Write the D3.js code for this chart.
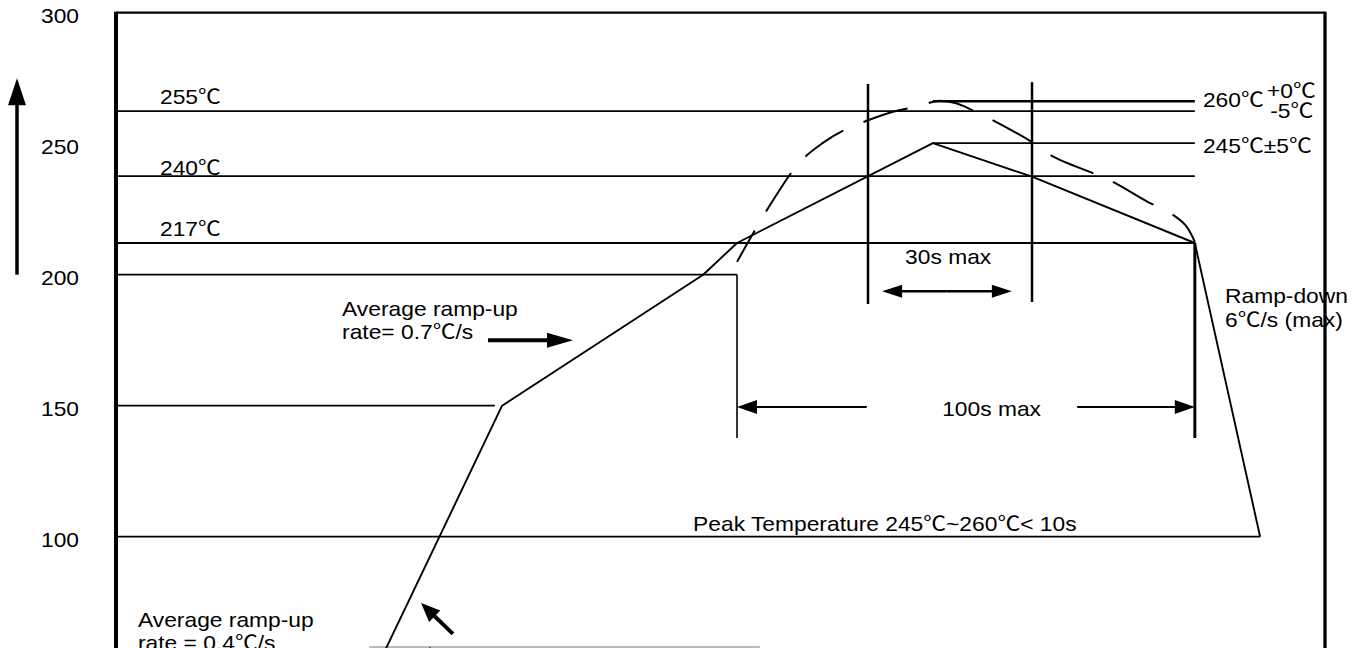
<!DOCTYPE html>
<html><head><meta charset="utf-8">
<script src="https://cdn.jsdelivr.net/npm/d3@7"></script>
<style>
html,body{margin:0;padding:0;background:#fff;}
svg{display:block;}
text{font-family:"Liberation Sans","Noto Sans CJK SC",Arial,sans-serif;font-size:20px;fill:#000;}
</style></head><body>
<svg id="c" width="1363" height="648"></svg>
<script>
// ---- data (time in s, temperature in degC) ----
const yTickValues = [300, 250, 200, 150, 100];
const yTickLabels = ["300", "250", "200", "150", "100"];

const solidTime = [61.6, 95.8, 145.7, 154.1, 202.7, 227.3, 267.7, 283.9];
const solidTemp = [40, 150, 200, 212.1, 250.2, 237.4, 212.1, 100];

const dashedTime = [154.1, 162.3, 169.7, 175.4, 180.2, 192.6, 199.5, 203.7, 208.2, 212.4, 219.4, 227.3, 232.3, 243.4, 248.4, 256.1, 260.3, 265.3, 267.7];
const dashedTemp = [204.9, 226.6, 243.0, 250.3, 254.8, 262.1, 264.4, 266.3, 265.5, 262.9, 257.5, 250.6, 245.3, 238.1, 234.6, 227.7, 224.7, 219.0, 212.5];

const levelTemp  = [262.4, 237.6, 212.1, 200, 150, 100, 266.2, 250.2, 57.9];
const levelStart = [0, 0, 0, 0, 0, 0, 202.7, 202.7, 62.8];
const levelEnd   = [267.7, 267.7, 267.7, 154.1, 94, 283.9, 267.7, 267.7, 159.8];

const markerTime   = [186.6, 227.3, 154.1, 267.7];
const markerTop    = [272.8, 273.5, 200, 212.1];
const markerBottom = [188.8, 189.6, 137.7, 137.7];

// ---- drawing ----
const W = 1363, H = 648, SX = 1.14;
const svg = d3.select("#c");
const x = d3.scaleLinear().domain([0, 300]).range([116, 1325]);
const y = d3.scaleLinear().domain([100, 300]).range([536.7, 12.7]);

function line(x1, y1, x2, y2, w) {
  svg.append("line").attr("x1", x1).attr("y1", y1).attr("x2", x2).attr("y2", y2)
    .attr("stroke", "#000").attr("stroke-width", w);
}
function head(x1, y1, x2, y2, len, half) {
  const a = Math.atan2(y2 - y1, x2 - x1);
  const bx = x2 - len * Math.cos(a), by = y2 - len * Math.sin(a);
  const px = -Math.sin(a) * half, py = Math.cos(a) * half;
  svg.append("polygon").attr("points", [[x2, y2], [bx + px, by + py], [bx - px, by - py]].map(p => p.join(",")).join(" "))
    .attr("fill", "#000");
}
function arrow(x1, y1, x2, y2, w, len, half) {
  const a = Math.atan2(y2 - y1, x2 - x1);
  line(x1, y1, x2 - (len - 2) * Math.cos(a), y2 - (len - 2) * Math.sin(a), w);
  head(x1, y1, x2, y2, len, half);
}
function label(t, v, s) {
  return svg.append("text").attr("transform", `translate(${x(t)},${y(v)}) scale(${SX},1)`).text(s);
}

// level lines
levelTemp.forEach((v, i) => {
  line(x(levelStart[i]), y(v), x(levelEnd[i]), y(v), i === 6 ? 2.6 : (i === 8 ? 1.2 : 1.8));
});
svg.select("line:last-child").attr("stroke", "#777");
line(x(77.9), y(57.9), x(77.9), y(56), 1);

// frame
line(x(0), y(300), x(300), y(300), 2.3);
line(x(0), y(300) - 1, x(0), H + 5, 4);
line(x(300), y(300) - 1, x(300), H + 5, 3.3);

// y axis labels
const ax = svg.append("g").attr("transform", "translate(79,0)")
  .call(d3.axisLeft(y).tickValues(yTickValues).tickFormat((d, i) => yTickLabels[i]).tickSize(0).tickPadding(0));
ax.select(".domain").remove();
ax.selectAll("text").attr("dy", "0.47em").attr("transform", `scale(${SX},1)`)
  .style("font-size", "20px").style("font-family", '"Liberation Sans","Noto Sans CJK SC",Arial,sans-serif');

// up arrow on the left
arrow(17, y(200), 17, y(275), 3.5, 27, 9);

// vertical markers
markerTime.forEach((t, i) => {
  line(x(t), y(markerTop[i]), x(t), y(markerBottom[i]), i < 2 ? 2.5 : (i === 3 ? 3 : 1.6));
});

// profiles
const gen = d3.line().x(d => x(d[0])).y(d => y(d[1]));
svg.append("path").datum(solidTime.map((t, i) => [t, solidTemp[i]]))
  .attr("d", gen).attr("fill", "none").attr("stroke", "#000").attr("stroke-width", 1.9).attr("stroke-linejoin", "round");
svg.append("path").datum(dashedTime.map((t, i) => [t, dashedTemp[i]]))
  .attr("d", gen.curve(d3.curveCatmullRom)).attr("fill", "none").attr("stroke", "#000")
  .attr("stroke-width", 2).attr("stroke-dasharray", "46,22").attr("stroke-dashoffset", 10);

// dimension arrows
arrow(x(206), y(193.7), x(190.1), y(193.7), 2.5, 20, 6.5);
arrow(x(206), y(193.7), x(222.3), y(193.7), 2.5, 20, 6.5);
arrow(x(186.3), y(149.5), x(154.1), y(149.5), 2.2, 20, 7);
arrow(x(238.5), y(149.5), x(267.7), y(149.5), 2.2, 20, 7);
arrow(x(92.3), y(175), x(113.4), y(175), 4, 26, 7.5);
arrow(x(83.6), y(62.9), x(75.7), y(74.7), 4, 19, 8);

// texts
label(10.92, 265.3, "255℃");
label(10.92, 238.05, "240℃");
label(10.92, 214.6, "217℃");
label(269.7, 264.0, "260℃");
label(285.6, 267.4, "+0℃");
label(286.4, 259.8, "-5℃");
label(269.7, 246.6, "245℃±5℃");
label(195.8, 204.1, "30s max");
label(205.0, 146.1, "100s max");
label(275.2, 189.2, "Ramp-down");
label(275.2, 180.2, "6℃/s (max)");
label(56.1, 184.2, "Average ramp-up");
label(56.1, 175.5, "rate= 0.7℃/s");
label(143.2, 102.2, "Peak Temperature 245℃~260℃< 10s");
label(5.46, 65.5, "Average ramp-up");
label(5.46, 56.7, "rate = 0.4℃/s");
</script>
</body></html>
